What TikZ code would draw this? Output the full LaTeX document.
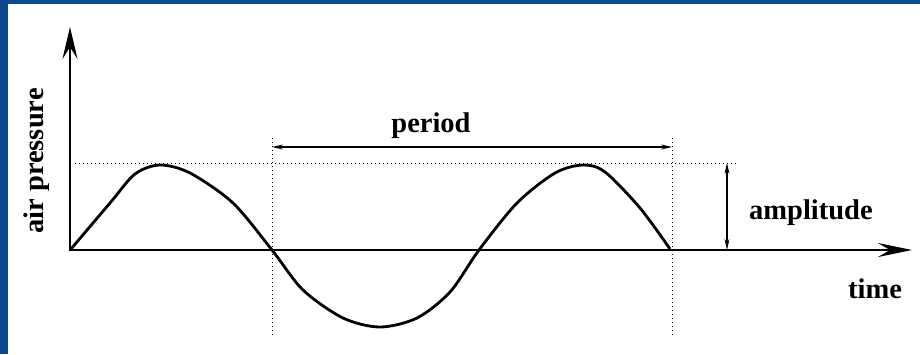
\documentclass[tikz,border=0pt]{standalone}
\usepackage{fontspec}
\setmainfont{Liberation Serif}
\usetikzlibrary{arrows.meta, positioning}
\definecolor{rahmen}{HTML}{0B4A8E}

\begin{document}
\begin{tikzpicture}[x=1pt, y=-1pt,
      achse/.style={line width=2.7pt, arrows={Stealth[length=32pt, width=15pt, inset=12pt]-Stealth[length=34pt, width=14pt, inset=12pt]}},
      masz/.style={line width=1.3pt, arrows={Stealth[length=11pt, width=5pt]-Stealth[length=11pt, width=5pt]}},
      hilf/.style={line width=1pt, dash pattern=on 1pt off 3pt},
      lbl/.style={font=\fontsize{28.5}{32}\selectfont\bfseries, inner sep=0pt}]
    \useasboundingbox (0,0) rectangle (920,354);
    \fill[white] (0,0) rectangle (920,354);
    \fill[rahmen] (0,0) rectangle (920,3.5);
    \fill[rahmen] (0,0) rectangle (7.5,354);
    % Achsen
    \coordinate (o) at (70,250);
    \coordinate (yt) at (70,27);
    \coordinate (xt) at (912,250);
    \draw[achse] (yt) -- (o) -- (xt);
    % Hilfslinien
    \coordinate (h1) at (75,163);
    \coordinate (h2) at (738,163);
    \coordinate (v1o) at (272,138);
    \coordinate (v1u) at (272,338);
    \coordinate (v2o) at (672,138);
    \coordinate (v2u) at (672,338);
    \draw[hilf] (h1) -- (h2);
    \draw[hilf] (v1o) -- (v1u);
    \draw[hilf] (v2o) -- (v2u);
    % Welle
    \draw[line width=2.8pt, line join=round] plot[smooth] coordinates {
      (71,249) (110,203) (135,174) (160,165) (190,173) (233,203) (272,250)
      (303,290) (343,318) (380,327) (417,318) (450,292) (479,250)
      (517,203) (555,173) (583,165) (605,172) (640,208) (670,249)};
    % Periode und Amplitude
    \coordinate (p1) at (272,147);
    \coordinate (p2) at (672,147);
    \draw[masz] (p1) -- (p2);
    \coordinate (a1) at (727,163);
    \coordinate (a2) at (727,250);
    \draw[masz] (a1) -- (a2);
    % Beschriftung
    \node[lbl, anchor=base] (per) at (431,132) {period};
    \node[lbl, anchor=base west] (amp) at (749,219) {amplitude};
    \node[lbl, anchor=base west] (zeit) at (848,298) {time};
    \node[lbl, rotate=90, anchor=base] (druck) at (43,161) {air pressure};
  \end{tikzpicture}
\end{document}
